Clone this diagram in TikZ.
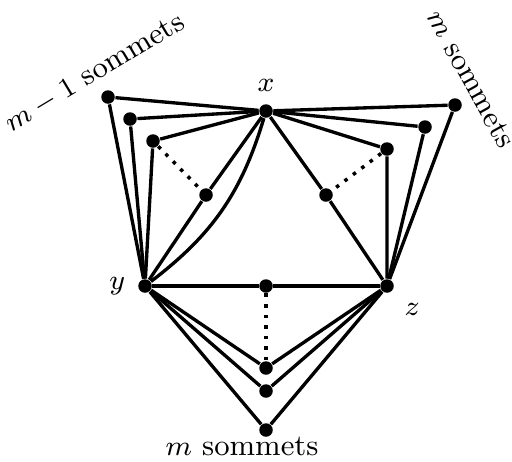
\documentclass[tikz,border=0pt]{standalone}
\usepackage{amsmath,amssymb}
\usepackage{tikz}
\usetikzlibrary{positioning}

\begin{document}
\begin{tikzpicture}[
  vtx/.style={circle, fill=black, inner sep=0pt, minimum size=1.35mm},
  edge/.style={line width=0.95pt},
  dots/.style={line width=1pt, dotted},
  lbl/.style={font=\fontsize{8.5}{10}\selectfont},
]
\useasboundingbox (0,0) rectangle (5.12,4.61);
% main triangle
\node[vtx, label={[lbl]above:$x$}] (x) at (2.66,3.50) {};
\node[vtx, label={[lbl]left:$y$}] (y) at (1.45,1.75) {};
\node[vtx, label={[lbl]below right:$z$}] (z) at (3.87,1.75) {};
% m-1 vertices between x and y
\node[vtx] (l1) at (1.08,3.64) {};
\node[vtx] (l2) at (1.30,3.42) {};
\node[vtx] (l3) at (1.53,3.20) {};
\node[vtx] (l4) at (2.06,2.66) {};
% m vertices between x and z
\node[vtx] (r1) at (4.55,3.56) {};
\node[vtx] (r2) at (4.25,3.34) {};
\node[vtx] (r3) at (3.87,3.12) {};
\node[vtx] (r4) at (3.26,2.66) {};
% m vertices between y and z
\node[vtx] (b1) at (2.66,1.75) {};
\node[vtx] (b2) at (2.66,0.93) {};
\node[vtx] (b3) at (2.66,0.70) {};
\node[vtx] (b4) at (2.66,0.31) {};
\foreach \v in {l1,l2,l3,l4} {
  \draw[edge] (x) -- (\v) -- (y);
}
\foreach \v in {r1,r2,r3,r4} {
  \draw[edge] (x) -- (\v) -- (z);
}
\foreach \v in {b1,b2,b3,b4} {
  \draw[edge] (y) -- (\v) -- (z);
}
\draw[edge] (x) to[bend left=18] (y);
\draw[dots] (l3) -- (l4);
\draw[dots] (r3) -- (r4);
\draw[dots] (b1) -- (b2);
% group labels
\node[lbl, rotate=31] (tl) at (0.95,3.88) {$m-1$ sommets};
\node[lbl, rotate=-61] (tr) at (4.71,3.82) {$m$ sommets};
\node[lbl] (tb) at (2.42,0.15) {$m$ sommets};
\end{tikzpicture}
\end{document}
